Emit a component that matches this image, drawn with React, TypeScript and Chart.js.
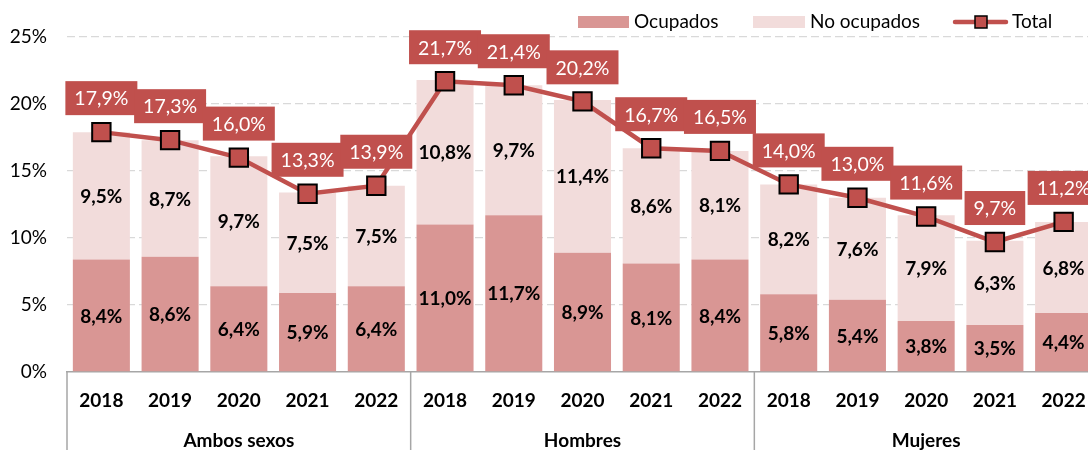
import React, { useEffect, useRef } from 'react';
import { Chart, registerables } from 'chart.js';

Chart.register(...registerables);

const years = ['2018', '2019', '2020', '2021', '2022', '2018', '2019', '2020', '2021', '2022', '2018', '2019', '2020', '2021', '2022'];
const groups = ['Ambos sexos', 'Hombres', 'Mujeres'];
const ocupados = [8.4, 8.6, 6.4, 5.9, 6.4, 11.0, 11.7, 8.9, 8.1, 8.4, 5.8, 5.4, 3.8, 3.5, 4.4];
const noOcupados = [9.5, 8.7, 9.7, 7.5, 7.5, 10.8, 9.7, 11.4, 8.6, 8.1, 8.2, 7.6, 7.9, 6.3, 6.8];
const total = [17.9, 17.3, 16.0, 13.3, 13.9, 21.7, 21.4, 20.2, 16.7, 16.5, 14.0, 13.0, 11.6, 9.7, 11.2];
const seriesNames = ['Ocupados', 'No ocupados', 'Total'];
const yMin = 0;
const yMax = 25;
const yStep = 5;

const FONT = 'Lato, "Open Sans", sans-serif';
const C_OCU = '#D99694';
const C_NOOCU = '#F2DCDB';
const C_TOTAL = '#C0504D';

const fmt = (v: number) => v.toFixed(1).replace('.', ',') + '%';

const overlay = {
  id: 'overlay',
  afterDatasetsDraw(chart: any) {
    const ctx = chart.ctx;
    ctx.save();
    // bar labels
    ctx.font = `bold 19px ${FONT}`;
    ctx.fillStyle = '#000';
    ctx.textAlign = 'center';
    ctx.textBaseline = 'middle';
    [1, 2].forEach((di) => {
      const meta = chart.getDatasetMeta(di);
      const data = chart.data.datasets[di].data as number[];
      meta.data.forEach((el: any, i: number) => {
        const y = (el.y + el.base) / 2;
        ctx.fillText(fmt(data[i]), el.x, y + 1);
      });
    });
    // line labels
    ctx.font = `19.5px ${FONT}`;
    const lmeta = chart.getDatasetMeta(0);
    const ldata = chart.data.datasets[0].data as number[];
    lmeta.data.forEach((pt: any, i: number) => {
      const text = fmt(ldata[i]);
      const w = ctx.measureText(text).width + 18;
      const h = 34;
      const x = pt.x - w / 2;
      const y = pt.y - 17 - h;
      ctx.fillStyle = C_TOTAL;
      ctx.fillRect(x, y, w, h);
      ctx.fillStyle = '#fff';
      ctx.fillText(text, pt.x, y + h / 2 + 1);
    });
    ctx.restore();
  },
  afterDraw(chart: any) {
    const ctx = chart.ctx;
    const ca = chart.chartArea;
    const xs = chart.scales.x;
    ctx.save();
    // group separators
    ctx.strokeStyle = '#A6A6A6';
    ctx.lineWidth = 1.5;
    const n = years.length;
    const catW = (ca.right - ca.left) / n;
    for (let g = 0; g <= groups.length; g++) {
      const x = ca.left + g * 5 * catW;
      ctx.beginPath();
      ctx.moveTo(x, ca.bottom);
      ctx.lineTo(x, chart.height);
      ctx.stroke();
    }
    // group labels
    ctx.font = `bold 19px ${FONT}`;
    ctx.fillStyle = '#000';
    ctx.textAlign = 'center';
    ctx.textBaseline = 'middle';
    groups.forEach((g, i) => {
      const x0 = xs.getPixelForValue(i * 5);
      const x1 = xs.getPixelForValue(i * 5 + 4);
      ctx.fillText(g, (x0 + x1) / 2, 441);
    });
    // legend
    ctx.font = `19px ${FONT}`;
    ctx.textAlign = 'left';
    const ly = 22;
    ctx.fillStyle = C_OCU;
    ctx.fillRect(578, 16, 51, 12);
    ctx.fillStyle = '#000';
    ctx.fillText(seriesNames[0], 634, ly);
    ctx.fillStyle = C_NOOCU;
    ctx.fillRect(753, 16, 52, 12);
    ctx.fillStyle = '#000';
    ctx.fillText(seriesNames[1], 810, ly);
    ctx.strokeStyle = C_TOTAL;
    ctx.lineWidth = 4.5;
    ctx.lineCap = 'round';
    ctx.beginPath();
    ctx.moveTo(955, ly);
    ctx.lineTo(1006, ly);
    ctx.stroke();
    ctx.fillStyle = C_TOTAL;
    ctx.fillRect(975, ly - 6, 12, 12);
    ctx.strokeStyle = '#000';
    ctx.lineWidth = 1.5;
    ctx.strokeRect(975, ly - 6, 12, 12);
    ctx.fillStyle = '#000';
    ctx.fillText(seriesNames[2], 1012, ly);
    ctx.restore();
  },
};

export default function App() {
  const ref = useRef<HTMLCanvasElement | null>(null);
  useEffect(() => {
    if (!ref.current) return;
    const chart = new Chart(ref.current, {
      type: 'bar',
      data: {
        labels: years,
        datasets: [
          {
            type: 'line',
            label: seriesNames[2],
            data: total,
            stack: 'total',
            order: 0,
            borderColor: C_TOTAL,
            borderWidth: 4.5,
            pointStyle: 'rect',
            pointRadius: 13,
            pointBackgroundColor: C_TOTAL,
            pointBorderColor: '#000',
            pointBorderWidth: 2,
            tension: 0,
          } as any,
          {
            type: 'bar',
            label: seriesNames[0],
            data: ocupados,
            stack: 'bars',
            order: 1,
            backgroundColor: C_OCU,
            barPercentage: 0.83,
            categoryPercentage: 1,
          },
          {
            type: 'bar',
            label: seriesNames[1],
            data: noOcupados,
            stack: 'bars',
            order: 2,
            backgroundColor: C_NOOCU,
            barPercentage: 0.83,
            categoryPercentage: 1,
          },
        ],
      },
      options: {
        responsive: false,
        animation: false,
        layout: { padding: { top: 37, left: 0, right: 0, bottom: 0 } },
        plugins: { legend: { display: false }, title: { display: false }, tooltip: { enabled: false } },
        scales: {
          x: {
            stacked: true,
            grid: { display: false, drawTicks: false },
            border: { display: true, color: '#A6A6A6', width: 1.5 },
            ticks: { font: { family: FONT, size: 19, weight: 'bold' }, color: '#000', padding: 17, autoSkip: false, maxRotation: 0 },
            afterFit: (s: any) => { s.height = 78; },
          },
          y: {
            stacked: true,
            min: yMin,
            max: yMax,
            ticks: { stepSize: yStep, callback: (v: any) => v + '%', font: { family: FONT, size: 19 }, color: '#000', padding: 20 },
            grid: { color: (c: any) => (c.tick && c.tick.value === 0 ? 'rgba(0,0,0,0)' : '#D9D9D9'), drawTicks: false, lineWidth: 1.3 },
            border: { display: false, dash: [8, 4] },
            afterFit: (s: any) => { s.width = 67; },
          },
        },
      },
      plugins: [overlay],
    });
    return () => chart.destroy();
  }, []);
  return (
    <div style={{ position: 'absolute', left: 0, top: 0, width: 1088, height: 450, overflow: 'hidden', background: '#fff' }}>
      <canvas ref={ref} width={1113} height={450} style={{ display: 'block' }} />
    </div>
  );
}
